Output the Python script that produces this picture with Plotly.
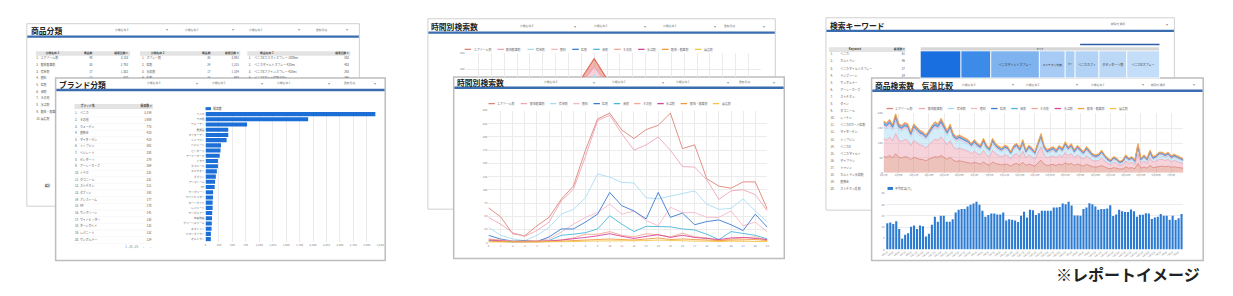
import plotly.graph_objects as go
import pandas as pd

W, H = 1233, 296
FONT = "Noto Sans CJK JP"
BLUE_BAR = "#3a6cb0"

# ---------------- data ----------------
series_names = ["エアゾール剤", "殺虫殺菌剤", "除草剤", "肥料", "粒剤", "液剤", "その他", "水溶剤", "殺虫・殺菌剤", "展着剤"]
series_colors = ["#dc8577", "#eea6b8", "#a9dcf3", "#f6b8c7", "#3a7bd5", "#48b8da", "#f5a88e", "#d8469a", "#f09a3e", "#f6c445"]

# left back card tables
cls3_names = ["エアゾール剤", "殺虫殺菌剤", "除草剤", "肥料", "粒剤", "液剤", "その他", "水溶剤", "殺虫・殺菌剤", "展着剤"]
cls3_items = [40, 33, 17, 12, 9, 8, 6, 5, 4, 3]
cls3_search = [3133, 2792, 1302, 820, 615, 437, 288, 205, 164, 98]
cls2_names = ["スプレー剤", "粒剤", "水和剤", "乳剤"]
cls2_items = [35, 24, 17, 15]
cls2_search = [3092, 1215, 1104, 980]
prod_names = ["ベニカXネクストスプレー 1000ml", "ベニカマイルドスプレー 420ml", "ベニカXファインスプレー 420ml", "ベニカXガード粒剤 550g"]
prod_search = [503, 403, 293, 245]

# left front card: brands
brands = ["ベニカ", "その他", "ウェーデン", "農薬会", "マイターデン", "トップジン", "ベジレート", "ゼンターリ",
          "アーシーカーブ", "ドラウ", "ダコニール", "スミチオン", "ダブリン", "アンフィーム", "MF", "サンボリーン",
          "ワイドヒッター", "ターンガイド", "レパニード", "サンボルナー", "石灰硫黄", "グリーンスキーム",
          "ネマトリン", "ジマンダイセン", "オルトラン"]
brand_counts = [3159, 1909, 773, 423, 423, 392, 288, 279, 264, 231, 231, 211, 192, 177, 170, 141,
                138, 132, 132, 124, 120, 117, 112, 100, 98]

# middle front card: hourly searches
hours = list(range(24))
h_aerosol = [66, 49, 17, 13, 32, 48, 82, 107, 175, 234, 245, 213, 197, 214, 222, 245, 178, 185, 121, 107, 103, 115, 115, 63]
h_insect = [48, 35, 19, 12, 23, 39, 79, 101, 163, 231, 241, 206, 175, 185, 200, 175, 144, 143, 119, 82, 98, 100, 91, 60]
h_herb = [29, 14, 7, 4, 14, 29, 54, 63, 85, 130, 124, 114, 113, 85, 83, 88, 94, 98, 73, 63, 65, 83, 60, 39]
h_fert = [7, 4, 2, 4, 4, 7, 20, 35, 48, 57, 73, 54, 60, 42, 32, 67, 57, 57, 48, 48, 60, 32, 39, 20]
h_gran = [14, 7, 3, 4, 2, 11, 26, 26, 39, 54, 95, 70, 60, 45, 95, 48, 56, 34, 40, 43, 34, 23, 54, 29]
h_liquid = [4, 2, 1, 2, 2, 4, 14, 16, 19, 26, 51, 35, 21, 31, 31, 30, 26, 24, 16, 6, 21, 18, 14, 7]
h_other = [7, 5, 3, 3, 3, 4, 5, 9, 16, 16, 21, 14, 11, 17, 15, 11, 18, 11, 9, 4, 7, 9, 11, 4]
h_water = [5, 3, 2, 2, 2, 3, 5, 7, 10, 13, 17, 12, 8, 12, 15, 10, 14, 10, 8, 6, 9, 10, 8, 6]
h_mix = [3, 2, 1, 1, 1, 2, 3, 4, 5, 6, 7, 6, 5, 7, 9, 6, 7, 6, 5, 4, 5, 6, 6, 4]
h_spread = [1, 1, 1, 1, 1, 1, 2, 2, 3, 3, 4, 3, 3, 4, 5, 4, 4, 3, 3, 2, 3, 3, 3, 2]

# middle back card: stacked hourly (only the peak shows above the front card)
bk_liquid = [5, 3, 2, 2, 2, 4, 20, 40, 70, 115, 150, 113, 80, 60, 50, 45, 40, 35, 25, 15, 10, 8, 6, 4]
bk_herb = [4, 2, 1, 1, 1, 3, 8, 12, 18, 22, 30, 22, 16, 14, 12, 11, 10, 9, 7, 5, 4, 3, 3, 2]
bk_insect = [3, 2, 1, 1, 1, 2, 6, 10, 15, 18, 28, 18, 13, 11, 10, 9, 8, 7, 6, 4, 3, 3, 2, 2]
bk_aerosol = [3, 2, 1, 1, 1, 2, 6, 9, 13, 15, 25, 15, 12, 10, 9, 8, 7, 6, 5, 4, 3, 2, 2, 2]

# right back card: keywords + treemap
kw_names = ["ベニカ", "カルトラン", "ベニカマイルドスプレー", "ランブリーン", "サンボルナー", "アーシーカーブ",
            "スミチオン", "ダイン", "ダコニール", "レーナン", "ベニカXガード粒剤", "マイターデン", "トップジン",
            "ベニカX", "ベニカマイルド", "マイプラン", "ミャソン", "カルトラン水和剤", "農薬会", "スミチオン乳剤"]
kw_counts = [61, 46, 27, 24, 22, 20, 18, 17, 16, 15, 14, 13, 12, 12, 11, 10, 10, 9, 9, 8]
tm_labels = ["ベニカ", "カルトラン", "ベニカマイルドスプレー", "スミチオン乳剤", "MF-F", "ベニカカフト", "ダゼンターリ剤", "ベニカXスプレー"]
tm_text = ["", "", "ベニカマイルドスプレー", "スミチオン乳剤", "MF-F", "ベニカカフト", "ダゼンターリ剤", "ベニカXスプレー"]
tm_values = [41, 30, 49, 26, 10, 24, 28, 33]
tm_colors = ["#1a6fe0", "#3d8be9", "#7eb3f0", "#a7cbf5", "#abcef5", "#b3d3f6", "#bcd8f7", "#c4ddf8"]

# right front card: daily stacked searches + temperature
days = [f"{d.month}月{d.day}日" for d in pd.date_range("2024-04-01", periods=100)]
d_aerosol = [55, 52, 58, 50, 64, 52, 50, 54, 52, 44,
             52, 48, 45, 44, 40, 46, 50, 54, 52, 58,
             52, 45, 52, 42, 38, 40, 38, 36, 35, 31,
             35, 31, 29, 36, 29, 26, 36, 31, 28, 26,
             29, 28, 22, 29, 31, 26, 35, 24, 29, 26,
             22, 33, 42, 29, 24, 26, 28, 24, 29, 26,
             33, 28, 31, 24, 29, 26, 22, 28, 24, 20,
             19, 20, 24, 19, 15, 13, 17, 15, 12, 13,
             19, 15, 17, 13, 31, 15, 19, 15, 24, 17,
             19, 22, 22, 20, 22, 18, 20, 18, 17, 15]
d_insect = [60, 58, 62, 57, 68, 57, 55, 58, 57, 47,
            57, 52, 49, 47, 43, 49, 55, 59, 57, 63,
            56, 49, 56, 45, 41, 43, 41, 39, 37, 33,
            37, 33, 31, 39, 31, 27, 39, 33, 29, 27,
            31, 29, 24, 31, 33, 27, 37, 26, 31, 27,
            24, 35, 45, 31, 26, 27, 29, 26, 31, 27,
            35, 29, 33, 26, 31, 27, 24, 29, 26, 21,
            20, 21, 25, 20, 16, 14, 18, 16, 12, 14,
            20, 16, 18, 14, 33, 16, 20, 16, 25, 18,
            20, 23, 23, 21, 23, 19, 21, 19, 17, 15]
d_herb = [38, 38, 38, 36, 42, 36, 35, 36, 36, 30,
          36, 33, 31, 30, 28, 31, 35, 37, 36, 39,
          36, 31, 36, 28, 26, 27, 26, 24, 23, 21,
          23, 21, 19, 24, 19, 17, 24, 20, 18, 17,
          19, 18, 14, 19, 20, 17, 22, 15, 19, 17,
          14, 21, 26, 19, 15, 16, 17, 15, 18, 16,
          20, 17, 19, 15, 18, 16, 14, 17, 15, 12,
          10, 11, 13, 10, 8, 7, 9, 8, 6, 7,
          10, 8, 9, 7, 16, 8, 10, 8, 13, 9,
          10, 12, 12, 11, 12, 9, 10, 10, 9, 8]
d_fert = [6, 6, 6, 6, 7, 6, 6, 6, 6, 5,
          6, 6, 5, 5, 5, 5, 6, 6, 6, 6,
          6, 5, 6, 5, 5, 5, 5, 5, 5, 4,
          5, 4, 4, 5, 4, 4, 5, 4, 4, 4,
          4, 4, 3, 4, 4, 4, 5, 3, 4, 4,
          3, 4, 5, 4, 3, 4, 4, 3, 4, 4,
          5, 4, 4, 3, 4, 4, 3, 4, 3, 3,
          3, 3, 4, 3, 3, 2, 3, 3, 2, 2,
          3, 3, 3, 2, 5, 3, 3, 3, 4, 3,
          3, 4, 4, 3, 4, 3, 3, 3, 3, 2]
d_gran = [5, 6, 5, 5, 6, 5, 5, 5, 5, 4,
          5, 5, 5, 4, 4, 4, 5, 5, 5, 6,
          5, 4, 5, 4, 4, 4, 4, 4, 3, 3,
          4, 3, 3, 4, 3, 3, 4, 3, 3, 3,
          3, 3, 3, 3, 4, 3, 4, 3, 3, 3,
          3, 4, 5, 3, 3, 3, 3, 3, 3, 3,
          4, 3, 4, 3, 3, 3, 3, 3, 3, 3,
          3, 3, 3, 3, 2, 2, 2, 2, 2, 2,
          3, 2, 2, 2, 4, 2, 3, 2, 3, 2,
          2, 3, 3, 3, 3, 3, 3, 2, 2, 2]
d_liquid = [4, 4, 4, 4, 5, 4, 4, 4, 4, 3,
            4, 3, 3, 3, 3, 3, 4, 4, 4, 4,
            4, 3, 4, 3, 3, 3, 3, 3, 3, 2,
            3, 2, 2, 3, 2, 2, 3, 2, 2, 2,
            2, 2, 2, 2, 2, 2, 3, 2, 2, 2,
            2, 2, 3, 2, 2, 2, 2, 2, 2, 2,
            2, 2, 2, 2, 2, 2, 2, 2, 2, 2,
            2, 2, 2, 2, 2, 2, 2, 2, 1, 2,
            2, 2, 2, 2, 3, 2, 2, 2, 2, 2,
            2, 2, 2, 2, 2, 2, 2, 2, 2, 2]
d_other = [2, 2, 3, 2, 3, 2, 2, 2, 2, 2,
           2, 2, 2, 2, 2, 2, 2, 3, 2, 3,
           2, 2, 2, 2, 2, 2, 2, 2, 2, 2,
           2, 2, 2, 2, 2, 2, 2, 2, 2, 2,
           2, 2, 1, 2, 2, 2, 2, 2, 2, 2,
           1, 2, 2, 2, 2, 2, 2, 2, 2, 2,
           2, 2, 2, 2, 2, 2, 1, 2, 2, 1,
           1, 1, 2, 1, 1, 1, 1, 1, 1, 1,
           1, 1, 1, 1, 2, 1, 1, 1, 2, 1,
           1, 1, 1, 1, 1, 1, 1, 1, 1, 1]
d_water = [2, 1, 2, 1, 2, 1, 1, 2, 1, 1,
           1, 1, 1, 1, 1, 1, 1, 2, 1, 2,
           1, 1, 1, 1, 1, 1, 1, 1, 1, 1,
           1, 1, 1, 1, 1, 1, 1, 1, 1, 1,
           1, 1, 1, 1, 1, 1, 1, 1, 1, 1,
           1, 1, 2, 1, 1, 1, 1, 1, 1, 1,
           1, 1, 1, 1, 1, 1, 1, 1, 1, 1,
           1, 1, 1, 1, 1, 1, 1, 1, 1, 1,
           1, 1, 1, 1, 2, 1, 1, 1, 1, 1,
           1, 1, 1, 1, 1, 1, 1, 1, 1, 1]
d_mix = [2, 2, 2, 2, 3, 2, 2, 2, 2, 2,
         2, 2, 2, 2, 2, 2, 2, 2, 2, 3,
         2, 2, 2, 2, 2, 2, 2, 2, 2, 2,
         2, 2, 2, 2, 2, 1, 2, 2, 2, 1,
         2, 2, 1, 2, 2, 2, 2, 1, 2, 2,
         1, 2, 2, 2, 2, 2, 2, 2, 2, 2,
         2, 2, 2, 2, 2, 2, 1, 2, 2, 1,
         1, 1, 2, 1, 1, 1, 1, 1, 1, 1,
         1, 1, 1, 1, 2, 1, 1, 1, 2, 1,
         1, 1, 1, 1, 1, 1, 1, 1, 1, 1]
d_spread = [1, 1, 1, 1, 1, 1, 1, 1, 1, 1,
            1, 1, 1, 1, 1, 1, 1, 1, 1, 1,
            1, 1, 1, 1, 1, 1, 1, 1, 1, 1,
            1, 1, 1, 1, 1, 1, 1, 1, 1, 1,
            1, 1, 1, 1, 1, 1, 1, 1, 1, 1,
            1, 1, 1, 1, 1, 1, 1, 1, 1, 1,
            1, 1, 1, 1, 1, 1, 1, 1, 1, 1,
            1, 1, 1, 1, 1, 1, 1, 1, 1, 1,
            1, 1, 1, 1, 1, 1, 1, 1, 1, 1,
            1, 1, 1, 1, 1, 1, 1, 1, 1, 1]
temps = [11.7, 12.1, 11.4, 12.6, 9.2, 4.8, 6.6, 7.3, 10.2, 10.7,
         9.2, 10.7, 10.4, 5.8, 7.0, 11.1, 14.6, 12.4, 15.1, 15.1,
         12.4, 12.4, 13.5, 16.5, 17.7, 18.0, 18.0, 19.2, 19.9, 20.5,
         21.3, 19.9, 17.3, 14.6, 15.4, 16.1, 16.1, 15.6, 15.6, 16.5,
         12.9, 13.5, 13.3, 12.9, 12.3, 15.1, 16.8, 14.3, 17.7, 17.5,
         15.4, 16.2, 17.3, 17.3, 17.3, 17.3, 18.7, 18.7, 19.0, 20.5,
         20.2, 21.3, 19.6, 15.2, 15.2, 15.1, 18.0, 18.7, 20.6, 20.2,
         19.2, 17.7, 18.1, 18.0, 18.3, 19.7, 14.9, 15.6, 17.7, 17.1,
         16.7, 16.7, 17.8, 17.1, 14.6, 15.5, 15.5, 16.2, 16.1, 13.6,
         14.3, 14.6, 15.8, 15.1, 15.1, 13.3, 15.1, 13.2, 13.9, 15.8]

hourly_series = [h_aerosol, h_insect, h_herb, h_fert, h_gran, h_liquid, h_other, h_water, h_mix, h_spread]
daily_series = [d_aerosol, d_insect, d_herb, d_fert, d_gran, d_liquid, d_other, d_water, d_mix, d_spread]
day_idx = list(range(len(temps)))

# ---------------- helpers ----------------
fig = go.Figure()
shapes, annots, axes = [], [], {}
n_axes = [0]


def X(x):
    return x / W


def Y(y):
    return 1 - y / H


def rect(x0, y0, x1, y1, fill, line=None, lw=0):
    shapes.append(dict(type="rect", xref="paper", yref="paper", x0=X(x0), x1=X(x1), y0=Y(y1), y1=Y(y0),
                       fillcolor=fill, line=dict(color=line or "rgba(0,0,0,0)", width=lw), layer="below"))


def hline(x0, x1, y, color, w):
    shapes.append(dict(type="line", xref="paper", yref="paper", x0=X(x0), x1=X(x1), y0=Y(y), y1=Y(y),
                       line=dict(color=color, width=w), layer="below"))


def label(x, y, s, size=3, color="#666", anchor="left", bold=False):
    annots.append(dict(x=X(x), y=Y(y), xref="paper", yref="paper", text=f"<b>{s}</b>" if bold else s,
                       showarrow=False, xanchor=anchor, yanchor="middle", borderpad=0,
                       font=dict(size=size, color=color, family=FONT)))


def dropdown(x0, x1, y, s):
    label(x0, y, s, 2.8, "#777")
    label(x1, y, "▾", 3.5, "#999", anchor="right")


def new_axes(x0, x1, y0, y1):
    n_axes[0] += 1
    s = "" if n_axes[0] == 1 else str(n_axes[0])
    axes["xaxis" + s] = dict(domain=[X(x0), X(x1)], anchor="y" + s)
    axes["yaxis" + s] = dict(domain=[Y(y1), Y(y0)], anchor="x" + s)
    return "x" + s, "y" + s, "xaxis" + s, "yaxis" + s


def canvas(x0, x1, y0, y1):
    xr, yr, xa, ya = new_axes(x0, x1, y0, y1)
    axes[xa].update(range=[x0, x1], visible=False, fixedrange=True)
    axes[ya].update(range=[y1, y0], visible=False, fixedrange=True)
    return (xr, yr, (x0, x1, y0, y1))


def text_w(s, size):
    s = s.replace("<b>", "").replace("</b>", "")
    return sum((1.0 if ord(c) > 0x2000 else 0.58) for c in s) * size


def ctext(cvs, xs, ys, texts, pos, size=2.9, color="#555"):
    """Text drawn on clipped canvases; only the pieces that can show in a canvas are added to it."""
    for xr, yr, (x0, x1, y0, y1) in cvs:
        px_, py_, pt_ = [], [], []
        for x, y, t in zip(xs, ys, texts):
            w = text_w(t, size)
            a, b = (x, x + w) if pos == "middle right" else (x - w, x)
            if b > x0 and a < x1 and y + size * 0.5 > y0 and y - size * 0.5 < y1:
                px_.append(x)
                py_.append(y)
                pt_.append(t)
        if pt_:
            fig.add_trace(go.Scatter(x=px_, y=py_, text=pt_, mode="text", textposition=pos,
                                     textfont=dict(size=size, color=color, family=FONT),
                                     xaxis=xr, yaxis=yr, cliponaxis=True, showlegend=False, hoverinfo="skip"))


def legend_row(x0, x1, y, labels, colors):
    cw, seg, pad = 3.0, 6.5, 1.5
    widths = [seg + pad + len(s) * cw for s in labels]
    gap = (x1 - x0 - sum(widths)) / (len(labels) - 1)
    x = x0
    for s, c, w in zip(labels, colors, widths):
        hline(x, x + seg, y, c, 1.3)
        label(x + seg + pad, y, s, 2.9, "#666")
        x += w + gap


def style_axis(name, **kw):
    base = dict(showline=False, zeroline=False, ticks="", fixedrange=True,
                tickfont=dict(size=2.8, color="#888", family=FONT), gridcolor="#ebebeb", gridwidth=0.6)
    base.update(kw)
    axes[name].update(base)


def fmt(v):
    return f"{v:,}"


# ================= LEFT GROUP =================
# back card: 商品分類
rect(22, 22, 357, 207, "white", "#d0d0d0", 1)
hline(22.5, 356.5, 35, BLUE_BAR, 2.2)
label(25, 29, "商品分類", 7.8, "#222", bold=True)
for (a, b, s) in [(110, 165, "分類名称 3"), (180, 232, "分類名称 2"), (245, 298, "分類名称 1"), (312, 347, "最新月度")]:
    dropdown(a, b, 28, s)
for (a, b) in [(31, 126), (136, 237), (244, 348)]:
    rect(a, 50, b, 54.5, "#e3e3e3")
lb_cv = [canvas(22, 357, 22, 77), canvas(22, 51, 77, 207)]
r1 = [57.3 + 6.8 * k for k in range(len(cls3_names))]
ctext(lb_cv, [41, 147, 257], [52.2] * 3, ["<b>分類名称 3</b>", "<b>分類名称 2</b>", "<b>商品名称 1</b>"], "middle right", 2.8, "#444")
ctext(lb_cv, [88, 124, 207, 235.5, 346.5], [52.2] * 5,
      ["<b>商品数</b>", "<b>検索回数 ▾</b>", "<b>商品数</b>", "<b>検索回数 ▾</b>", "<b>検索回数 ▾</b>"], "middle left", 2.8, "#444")
ctext(lb_cv, [31.5] * len(r1), r1, [f"{k + 1}." for k in range(len(r1))], "middle right")
ctext(lb_cv, [36] * len(r1), r1, cls3_names, "middle right")
ctext(lb_cv, [88] * len(r1), r1, [str(v) for v in cls3_items], "middle left")
ctext(lb_cv, [124] * len(r1), r1, [fmt(v) for v in cls3_search], "middle left")
r2 = r1[:len(cls2_names)]
ctext(lb_cv, [138] * len(r2), r2, [f"{k + 1}." for k in range(len(r2))], "middle right")
ctext(lb_cv, [142.5] * len(r2), r2, cls2_names, "middle right")
ctext(lb_cv, [207] * len(r2), r2, [str(v) for v in cls2_items], "middle left")
ctext(lb_cv, [235.5] * len(r2), r2, [fmt(v) for v in cls2_search], "middle left")
r3 = r1[:len(prod_names)]
ctext(lb_cv, [245.5] * len(r3), r3, [f"{k + 1}." for k in range(len(r3))], "middle right")
ctext(lb_cv, [251] * len(r3), r3, prod_names, "middle right")
ctext(lb_cv, [346.5] * len(r3), r3, [fmt(v) for v in prod_search], "middle left")
ctext(lb_cv, [40], [187], ["<b>総計</b>"], "middle right", 2.9, "#444")

# front card: ブランド分類
rect(51, 77, 383, 262, "white", "#bdbdbd", 1.5)
hline(51.7, 382.3, 89.2, BLUE_BAR, 2.5)
label(53, 83.5, "ブランド分類", 7.8, "#222", bold=True)
for (a, b, s) in [(142, 195, "分類名称 3"), (208, 261, "分類名称 2"), (273, 328, "分類名称 1"), (340, 375, "最新月度")]:
    dropdown(a, b, 82.5, s)
rect(70, 103.5, 149, 108.5, "#e3e3e3")
n_rows = 20
rows_y = [113 + 6.75 * k for k in range(n_rows)]
for yy in rows_y:
    hline(70, 149, yy + 3.37, "#f0f0f0", 0.5)
lf_cv = [canvas(52, 200, 95, 258)]
ctext(lf_cv, [76], [106], ["<b>ブランド名</b>"], "middle right", 2.9, "#444")
ctext(lf_cv, [148], [106], ["<b>検索数 ▾</b>"], "middle left", 2.9, "#444")
ctext(lf_cv, [70.5] * n_rows, rows_y, [f"{k + 1}." for k in range(n_rows)], "middle right")
ctext(lf_cv, [75.5] * n_rows, rows_y, brands[:n_rows], "middle right")
ctext(lf_cv, [147.5] * n_rows, rows_y, [fmt(v) for v in brand_counts[:n_rows]], "middle left")
ctext(lf_cv, [134, 140, 147], [249] * 3, ["1 - 25 / 25", "‹", "›"], "middle left", 2.9, "#777")

xr, yr, xa, ya = new_axes(202, 378, 111, 243)
fig.add_trace(go.Bar(x=brand_counts, y=brands, orientation="h", marker=dict(color="#1b6fd6", line=dict(width=0)),
                     width=0.78, xaxis=xr, yaxis=yr, showlegend=False, hoverinfo="skip"))
style_axis(xa, range=[0, 3250], dtick=250, tickformat=",", showgrid=True)
style_axis(ya, type="category", categoryorder="array", categoryarray=brands, autorange="reversed",
           showgrid=False, tickfont=dict(size=2.7, color="#666", family=FONT))
rect(202, 106.6, 207.5, 109.6, "#1b6fd6")
label(209, 108.1, "検索数", 2.9, "#555")

# ================= MIDDLE GROUP =================
rect(426, 17, 776, 210, "white", "#d0d0d0", 1)
hline(426.5, 775.5, 31, BLUE_BAR, 2.2)
label(428, 25, "時間別検索数", 7.8, "#222", bold=True)
for (a, b, s) in [(518, 576, "分類名称 3"), (592, 647, "分類名称 2"), (662, 717, "分類名称 1"), (723, 767, "最新月度")]:
    dropdown(a, b, 24.5, s)
legend_row(463, 712, 48, series_names, series_colors)
xr, yr, xa, ya = new_axes(464, 762, 52, 76)
for vals, c in zip([bk_liquid, bk_herb, bk_insect, bk_aerosol],
                   [series_colors[5], series_colors[2], series_colors[1], "#e0705c"]):
    fig.add_trace(go.Scatter(x=hours, y=vals, mode="lines", stackgroup="bk", line=dict(color=c, width=1.2),
                             xaxis=xr, yaxis=yr, showlegend=False, hoverinfo="skip"))
style_axis(xa, range=[0, 23], dtick=1, showticklabels=False, showgrid=True)
style_axis(ya, range=[175, 250], dtick=50, showgrid=True)

rect(452, 76, 785, 260, "white", "#bdbdbd", 1.5)
hline(452.7, 784.3, 87, BLUE_BAR, 2.5)
label(454, 81.5, "時間別検索数", 7.8, "#222", bold=True)
for (a, b, s) in [(542, 595, "分類名称 3"), (610, 665, "分類名称 2"), (675, 730, "分類名称 1"), (738, 777, "最新月度")]:
    dropdown(a, b, 81.5, s)
legend_row(487, 730, 103, series_names, series_colors)
xr, yr, xa, ya = new_axes(487, 768, 110, 244)
for vals, c in zip(hourly_series, series_colors):
    fig.add_trace(go.Scatter(x=hours, y=vals, mode="lines", line=dict(color=c, width=0.9),
                             xaxis=xr, yaxis=yr, showlegend=False, hoverinfo="skip"))
style_axis(xa, range=[0, 23], dtick=1, showgrid=True)
style_axis(ya, range=[0, 250], dtick=25, showgrid=True)

# ================= RIGHT GROUP =================
rect(827, 16, 1178, 211, "white", "#d0d0d0", 1)
hline(827.5, 1177.5, 29.3, BLUE_BAR, 2.2)
label(830, 23.5, "検索キーワード", 7.8, "#222", bold=True)
dropdown(1113, 1173, 22.5, "期間を選択")
hline(1083, 1163, 43, "#2f5da6", 1.5)
rect(830, 45.8, 907, 50.8, "#e3e3e3")
rb_cv = [canvas(827, 1178, 16, 77), canvas(827, 873, 77, 211)]
kw_y = [53.3 + 7.2 * k for k in range(len(kw_names))]
ctext(rb_cv, [850], [48.3], ["<b>Keyword</b>"], "middle right", 2.8, "#444")
ctext(rb_cv, [906.5], [48.3], ["<b>検索数 ▾</b>"], "middle left", 2.8, "#444")
ctext(rb_cv, [831.5] * len(kw_y), kw_y, [f"{k + 1}." for k in range(len(kw_y))], "middle right")
ctext(rb_cv, [841.5] * len(kw_y), kw_y, kw_names, "middle right")
ctext(rb_cv, [906.5] * len(kw_y), kw_y, [str(v) for v in kw_counts], "middle left")

fig.add_trace(go.Treemap(
    labels=["すべて"] + tm_labels, parents=[""] + ["すべて"] * len(tm_labels),
    values=[sum(tm_values)] + tm_values, branchvalues="total", sort=False,
    customdata=["すべて"] + tm_text, texttemplate="%{customdata}", textposition="middle center",
    tiling=dict(packing="dice", pad=0), pathbar=dict(visible=False),
    marker=dict(colors=["#d6d6d6"] + tm_colors, line=dict(color="white", width=0.8), pad=dict(t=4, l=0, r=0, b=0)),
    textfont=dict(size=3, color="#333", family=FONT), hoverinfo="skip",
    domain=dict(x=[X(922), X(1163)], y=[Y(77), Y(45.5)])))

rect(873, 77, 1207, 262, "white", "#bdbdbd", 1.5)
hline(873.7, 1206.3, 90, BLUE_BAR, 2.5)
label(875, 84.5, "商品検索数　気温比較", 7.8, "#222", bold=True)
for (a, b, s) in [(963, 1017, "分類名称 3"), (1028, 1082, "分類名称 2"), (1093, 1148, "分類名称 1"), (1153, 1200, "期間を選択")]:
    dropdown(a, b, 84, s)
legend_row(888, 1130, 108, series_names, series_colors)
xr, yr, xa, ya = new_axes(885, 1187, 113, 173)
for i, (vals, c) in enumerate(zip(daily_series, series_colors)):
    fig.add_trace(go.Scatter(x=day_idx, y=vals, mode="lines", stackgroup="day",
                             line=dict(color=c, width=0.8 if i < 6 else 0.5),
                             xaxis=xr, yaxis=yr, showlegend=False, hoverinfo="skip"))
style_axis(xa, range=[0, len(day_idx) - 1], tickvals=day_idx[::5], ticktext=days[::5], showgrid=True,
           tickfont=dict(size=2.5, color="#888", family=FONT))
style_axis(ya, range=[0, 200], dtick=50, showgrid=True)

rect(889, 187.5, 894.5, 190.5, "#2b7bd3")
label(896, 189, "平均気温(℃)", 2.9, "#555")
xr, yr, xa, ya = new_axes(887, 1187, 194, 251)
fig.add_trace(go.Bar(x=day_idx, y=temps, marker=dict(color="#2b7bd3", line=dict(width=0)), width=0.7,
                     xaxis=xr, yaxis=yr, showlegend=False, hoverinfo="skip"))
style_axis(xa, range=[-0.6, len(day_idx) - 0.4], tickvals=day_idx[::2], ticktext=days[::2], tickangle=-35,
           showgrid=False, tickfont=dict(size=2.2, color="#888", family=FONT))
style_axis(ya, range=[0, 25], dtick=5, showgrid=True)

label(1205, 276, "※レポートイメージ", 16, "#222", anchor="right", bold=True)

fig.update_layout(width=W, height=H, margin=dict(l=0, r=0, t=0, b=0, pad=0),
                  paper_bgcolor="white", plot_bgcolor="rgba(0,0,0,0)", showlegend=False,
                  font=dict(family=FONT), shapes=shapes, annotations=annots, hovermode=False, **axes)
fig.write_html("out.html")
